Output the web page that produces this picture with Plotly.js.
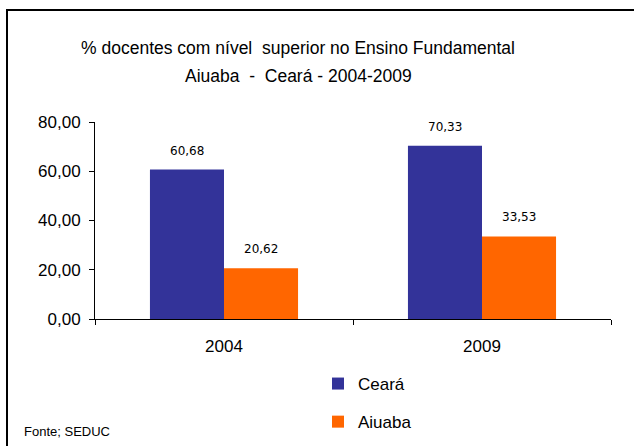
<!DOCTYPE html>
<html><head><meta charset="utf-8">
<script src="https://cdn.plot.ly/plotly-3.0.1.min.js"></script>
<style>html,body{margin:0;padding:0;background:#fff}#chart{width:634px;height:446px}</style>
</head><body><div id="chart"></div>
<script>
const categories = ['2004', '2009'];
const seriesNames = ['Ceará', 'Aiuaba'];
const cearaValues = [60.68, 70.33];
const aiubaValues = [20.62, 33.53];
const yTicks = [0, 20, 40, 60, 80];
const titleLines = ['% docentes com nível  superior no Ensino Fundamental', 'Aiuaba  -  Ceará - 2004-2009'];
const sourceNote = 'Fonte; SEDUC';

const colors = ['#333399', '#FF6600'];
const fmt = v => v.toFixed(2).replace('.', ',');

const traces = [
  {type:'bar', name:seriesNames[0], x:categories, y:cearaValues, marker:{color:colors[0]}, legendgroup:'a', hoverinfo:'none'},
  {type:'bar', name:seriesNames[1], x:categories, y:aiubaValues, marker:{color:colors[1]}, legendgroup:'b', hoverinfo:'none'}
];

const annotations = [];
[cearaValues, aiubaValues].forEach((vals, si) => {
  vals.forEach((v, i) => {
    annotations.push({x:i, y:v, xref:'x', yref:'y', text:fmt(v), showarrow:false,
      yanchor:'bottom', yshift:10, xshift:(si === 0 ? -37 : 37),
      font:{family:'DejaVu Sans', size:12, color:'#000'}});
  });
});
annotations.push({xref:'paper', yref:'paper', x:(22-95)/516, y:(319-431)/197, xanchor:'left', yanchor:'middle',
  text:sourceNote, showarrow:false, font:{family:'Liberation Sans', size:13, color:'#000'}});
annotations.push({xref:'paper', yref:'paper', x:(298-95)/516, y:1+(122-76)/197, xanchor:'center', yanchor:'middle',
  text:titleLines[1], showarrow:false, font:{family:'Liberation Sans', size:17.5, color:'#000'}});

const layout = {
  width:634, height:446,
  margin:{l:95, r:23, t:122, b:127, autoexpand:false},
  paper_bgcolor:'#fff', plot_bgcolor:'#fff',
  title:{text:titleLines[0], x:(298)/634, xanchor:'center', y:1-48/446, yanchor:'middle',
    font:{family:'Liberation Sans', size:17.5, color:'#000'}},
  barmode:'group', bargap:0.426, bargroupgap:0,
  xaxis:{type:'category', range:[-0.5, 1.5], showline:true, linecolor:'#000', linewidth:1, ticks:'outside', tickson:'boundaries',
    ticklen:5, tickcolor:'#000', tickfont:{family:'Liberation Sans', size:17, color:'#000'}, showgrid:false, zeroline:false,
    tickangle:0, automargin:false, ticklabelstandoff:12},
  yaxis:{range:[0,80], tickvals:yTicks, tickformat:'.2f', showline:true, linecolor:'#000', linewidth:1,
    ticks:'outside', ticklen:5, tickcolor:'#000', showgrid:false, zeroline:false, ticklabelstandoff:5,
    tickfont:{family:'Liberation Sans', size:17, color:'#000'}, automargin:false},
  separators:',.',
  showlegend:true,
  legend:{x:(318-95)/516, xanchor:'left', y:(319-366)/197, yanchor:'top', orientation:'v',
    font:{family:'Liberation Sans', size:17, color:'#000'}, tracegroupgap:13, itemwidth:30, bgcolor:'rgba(0,0,0,0)'},
  annotations:annotations,
  shapes:[{type:'rect', xref:'paper', yref:'paper', x0:(7-95)/516, x1:(640-95)/516, y0:(319-460)/197, y1:1+(122-10)/197,
    line:{color:'#000', width:2}, fillcolor:'rgba(0,0,0,0)', layer:'below'}]
};

Plotly.newPlot('chart', traces, layout, {displayModeBar:false, staticPlot:true});
</script></body></html>
